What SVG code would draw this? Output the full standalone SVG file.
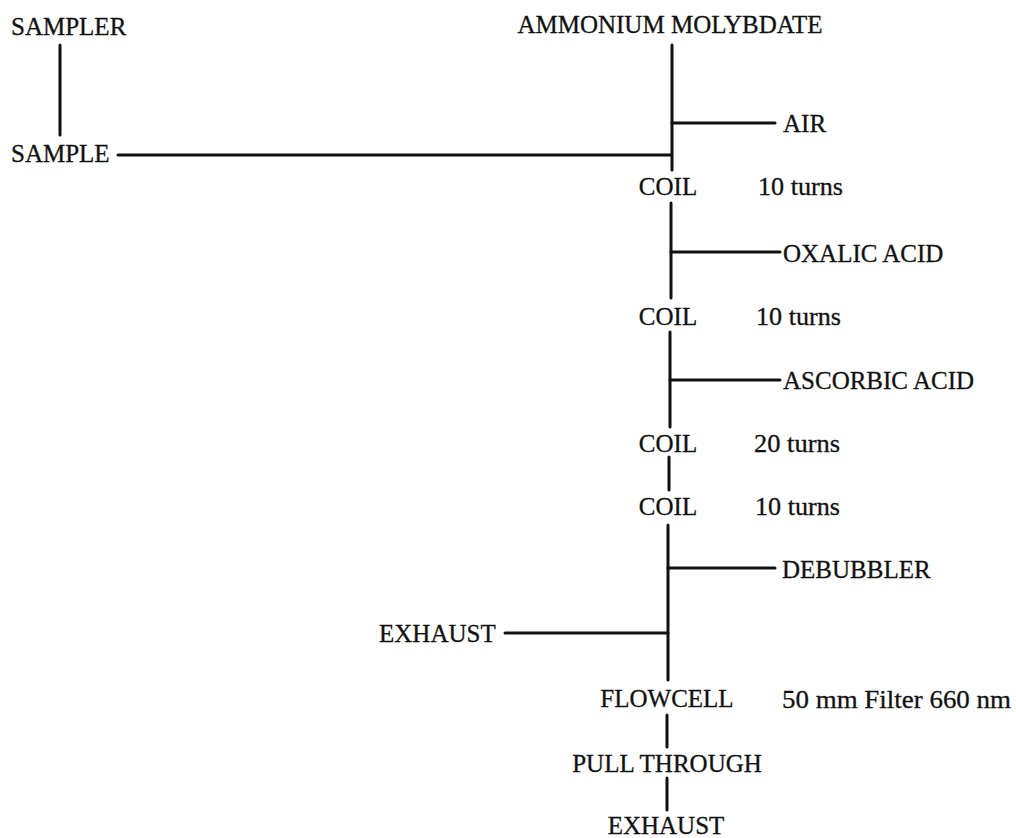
<svg xmlns="http://www.w3.org/2000/svg" width="1016" height="838" viewBox="0 0 1016 838">
<style>
text { font-family: "Liberation Serif", "Times New Roman", serif; font-size: 25px; fill: #111; stroke: #111; stroke-width: 0.3; }
.c { text-anchor: middle; }
.s { font-size: 26px; }
.ln { stroke: #111; stroke-width: 3; fill: none; stroke-linecap: round; }
</style>
<rect width="1016" height="838" fill="#fff"/>
<g id="connectors">
<line class="ln" x1="60" y1="45" x2="60" y2="135"/>
<line class="ln" x1="118" y1="155" x2="671" y2="155"/>
<line class="ln" x1="672" y1="45" x2="672" y2="170"/>
<line class="ln" x1="672" y1="123" x2="775" y2="123"/>
<line class="ln" x1="671" y1="203" x2="671" y2="298"/>
<line class="ln" x1="671" y1="252" x2="780" y2="252"/>
<line class="ln" x1="670" y1="332" x2="670" y2="427"/>
<line class="ln" x1="670" y1="380" x2="780" y2="380"/>
<line class="ln" x1="669" y1="457" x2="669" y2="490"/>
<line class="ln" x1="668" y1="525" x2="668" y2="680"/>
<line class="ln" x1="668" y1="568" x2="775" y2="568"/>
<line class="ln" x1="505" y1="633" x2="668" y2="633"/>
<line class="ln" x1="667" y1="715" x2="667" y2="747"/>
<line class="ln" x1="667" y1="778" x2="667" y2="810"/>
</g>
<g id="sampler"><text x="11" y="35">SAMPLER</text></g>
<g id="sample"><text x="11" y="162">SAMPLE</text></g>
<g id="ammonium"><text class="c" x="670" y="33">AMMONIUM MOLYBDATE</text></g>
<g id="air"><text x="783" y="132">AIR</text></g>
<g id="coil1"><text class="c" x="668" y="195">COIL</text><text class="s" x="758" y="195" textLength="85" lengthAdjust="spacingAndGlyphs">10 turns</text></g>
<g id="oxalic"><text x="783" y="262">OXALIC ACID</text></g>
<g id="coil2"><text class="c" x="668" y="325">COIL</text><text class="s" x="756" y="325" textLength="85" lengthAdjust="spacingAndGlyphs">10 turns</text></g>
<g id="ascorbic"><text x="783" y="389">ASCORBIC ACID</text></g>
<g id="coil3"><text class="c" x="668" y="452">COIL</text><text class="s" x="754" y="452" textLength="86" lengthAdjust="spacingAndGlyphs">20 turns</text></g>
<g id="coil4"><text class="c" x="668" y="515">COIL</text><text class="s" x="755" y="515" textLength="85" lengthAdjust="spacingAndGlyphs">10 turns</text></g>
<g id="debubbler"><text x="782" y="578">DEBUBBLER</text></g>
<g id="exhaust1"><text x="379" y="642">EXHAUST</text></g>
<g id="flowcell"><text class="c" x="667" y="707">FLOWCELL</text><text class="s" x="782" y="708" textLength="229" lengthAdjust="spacingAndGlyphs">50 mm Filter 660 nm</text></g>
<g id="pullthrough"><text class="c" x="667" y="772">PULL THROUGH</text></g>
<g id="exhaust2"><text class="c" x="666" y="834">EXHAUST</text></g>
</svg>
